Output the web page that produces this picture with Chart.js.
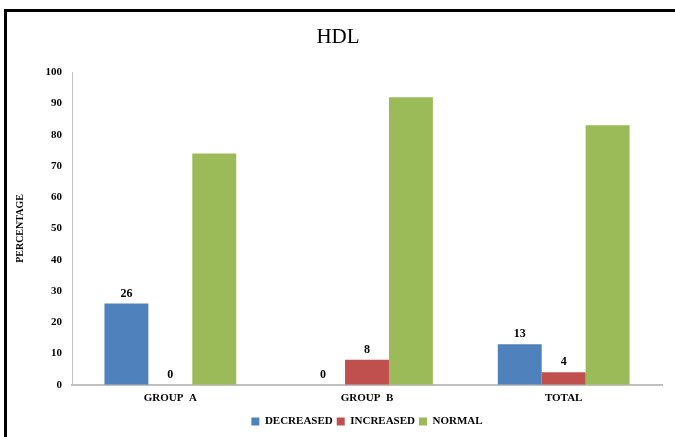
<!DOCTYPE html>
<html>
<head>
<meta charset="utf-8">
<script src="https://cdn.jsdelivr.net/npm/chart.js@4"></script>
<style>
  html, body { margin: 0; padding: 0; background: #fff; }
  #wrap { width: 675px; height: 437px; position: relative; }
</style>
</head>
<body>
<div id="wrap"><canvas id="hdlChart"></canvas></div>
<script>
const groups = ['GROUP  A', 'GROUP  B', 'TOTAL'];
const decreased = [26, 0, 13];
const increased = [0, 8, 4];
const normal = [74, 92, 83];
const yTicks = [0, 10, 20, 30, 40, 50, 60, 70, 80, 90, 100];

const serif = '"Liberation Serif", "DejaVu Serif", serif';

// black frame on the top and left edges
const frame = {
    id: 'frame',
    afterDraw(chart) {
        const ctx = chart.ctx;
        ctx.save();
        ctx.strokeStyle = '#000';
        ctx.lineWidth = 3;
        ctx.beginPath();
        ctx.moveTo(5.5, chart.height);
        ctx.lineTo(5.5, 10.5);
        ctx.lineTo(chart.width, 10.5);
        ctx.stroke();
        ctx.restore();
    }
};

// keep the legend centred under the plot area rather than the canvas
const centreLegend = {
    id: 'centreLegend',
    afterLayout(chart) {
        const l = chart.legend;
        const area = chart.chartArea;
        const d = (area.left + area.right) / 2 - (l.left + l.right) / 2;
        l.left += d;
        l.right += d;
    }
};

// value labels above the first two series only
const valueLabels = {
    id: 'valueLabels',
    afterDatasetsDraw(chart) {
        const ctx = chart.ctx;
        ctx.save();
        ctx.font = 'bold 12px ' + serif;
        ctx.fillStyle = '#000';
        ctx.textAlign = 'center';
        ctx.textBaseline = 'bottom';
        [0, 1].forEach((di) => {
            const meta = chart.getDatasetMeta(di);
            meta.data.forEach((bar, i) => {
                const v = chart.data.datasets[di].data[i];
                ctx.fillText(String(v), bar.x, bar.y - 4);
            });
        });
        ctx.restore();
    }
};

new Chart(document.getElementById('hdlChart'), {
    type: 'bar',
    data: {
        labels: groups,
        datasets: [
            { label: 'DECREASED', data: decreased, backgroundColor: '#4f81bd' },
            { label: 'INCREASED', data: increased, backgroundColor: '#c0504d' },
            { label: 'NORMAL', data: normal, backgroundColor: '#9bbb59' }
        ]
    },
    options: {
        responsive: true,
        maintainAspectRatio: false,
        animation: false,
        layout: { padding: { left: 14, right: 13, top: 25, bottom: 0 } },
        datasets: {
            bar: { categoryPercentage: 0.67, barPercentage: 1.0 }
        },
        scales: {
            x: {
                grid: { display: false, drawTicks: false },
                border: { color: '#bfbfbf', width: 2 },
                ticks: {
                    color: '#000',
                    font: { family: serif, size: 11, weight: 'bold' },
                    padding: 7,
                    maxRotation: 0
                }
            },
            y: {
                min: 0,
                max: 100,
                afterBuildTicks(scale) {
                    scale.ticks = yTicks.map((v) => ({ value: v }));
                },
                afterFit(scale) { scale.width = 58; },
                grid: { display: false, drawTicks: true, tickLength: 5, tickColor: '#bfbfbf' },
                border: { color: '#bfbfbf', width: 1 },
                ticks: {
                    color: '#000',
                    font: { family: serif, size: 11, weight: 'bold' },
                    padding: 5
                },
                title: {
                    display: true,
                    text: 'PERCENTAGE',
                    color: '#000',
                    font: { family: serif, size: 10, weight: 'bold' },
                    padding: 0
                }
            }
        },
        plugins: {
            title: {
                display: true,
                text: 'HDL',
                color: '#000',
                font: { family: serif, size: 21, weight: 'normal' },
                padding: { top: 0, bottom: 22 }
            },
            legend: {
                position: 'bottom',
                labels: {
                    color: '#000',
                    font: { family: serif, size: 11, weight: 'bold' },
                    boxWidth: 8,
                    boxHeight: 8,
                    padding: 4
                }
            },
            tooltip: { enabled: false }
        }
    },
    plugins: [frame, centreLegend, valueLabels]
});
</script>
</body>
</html>
